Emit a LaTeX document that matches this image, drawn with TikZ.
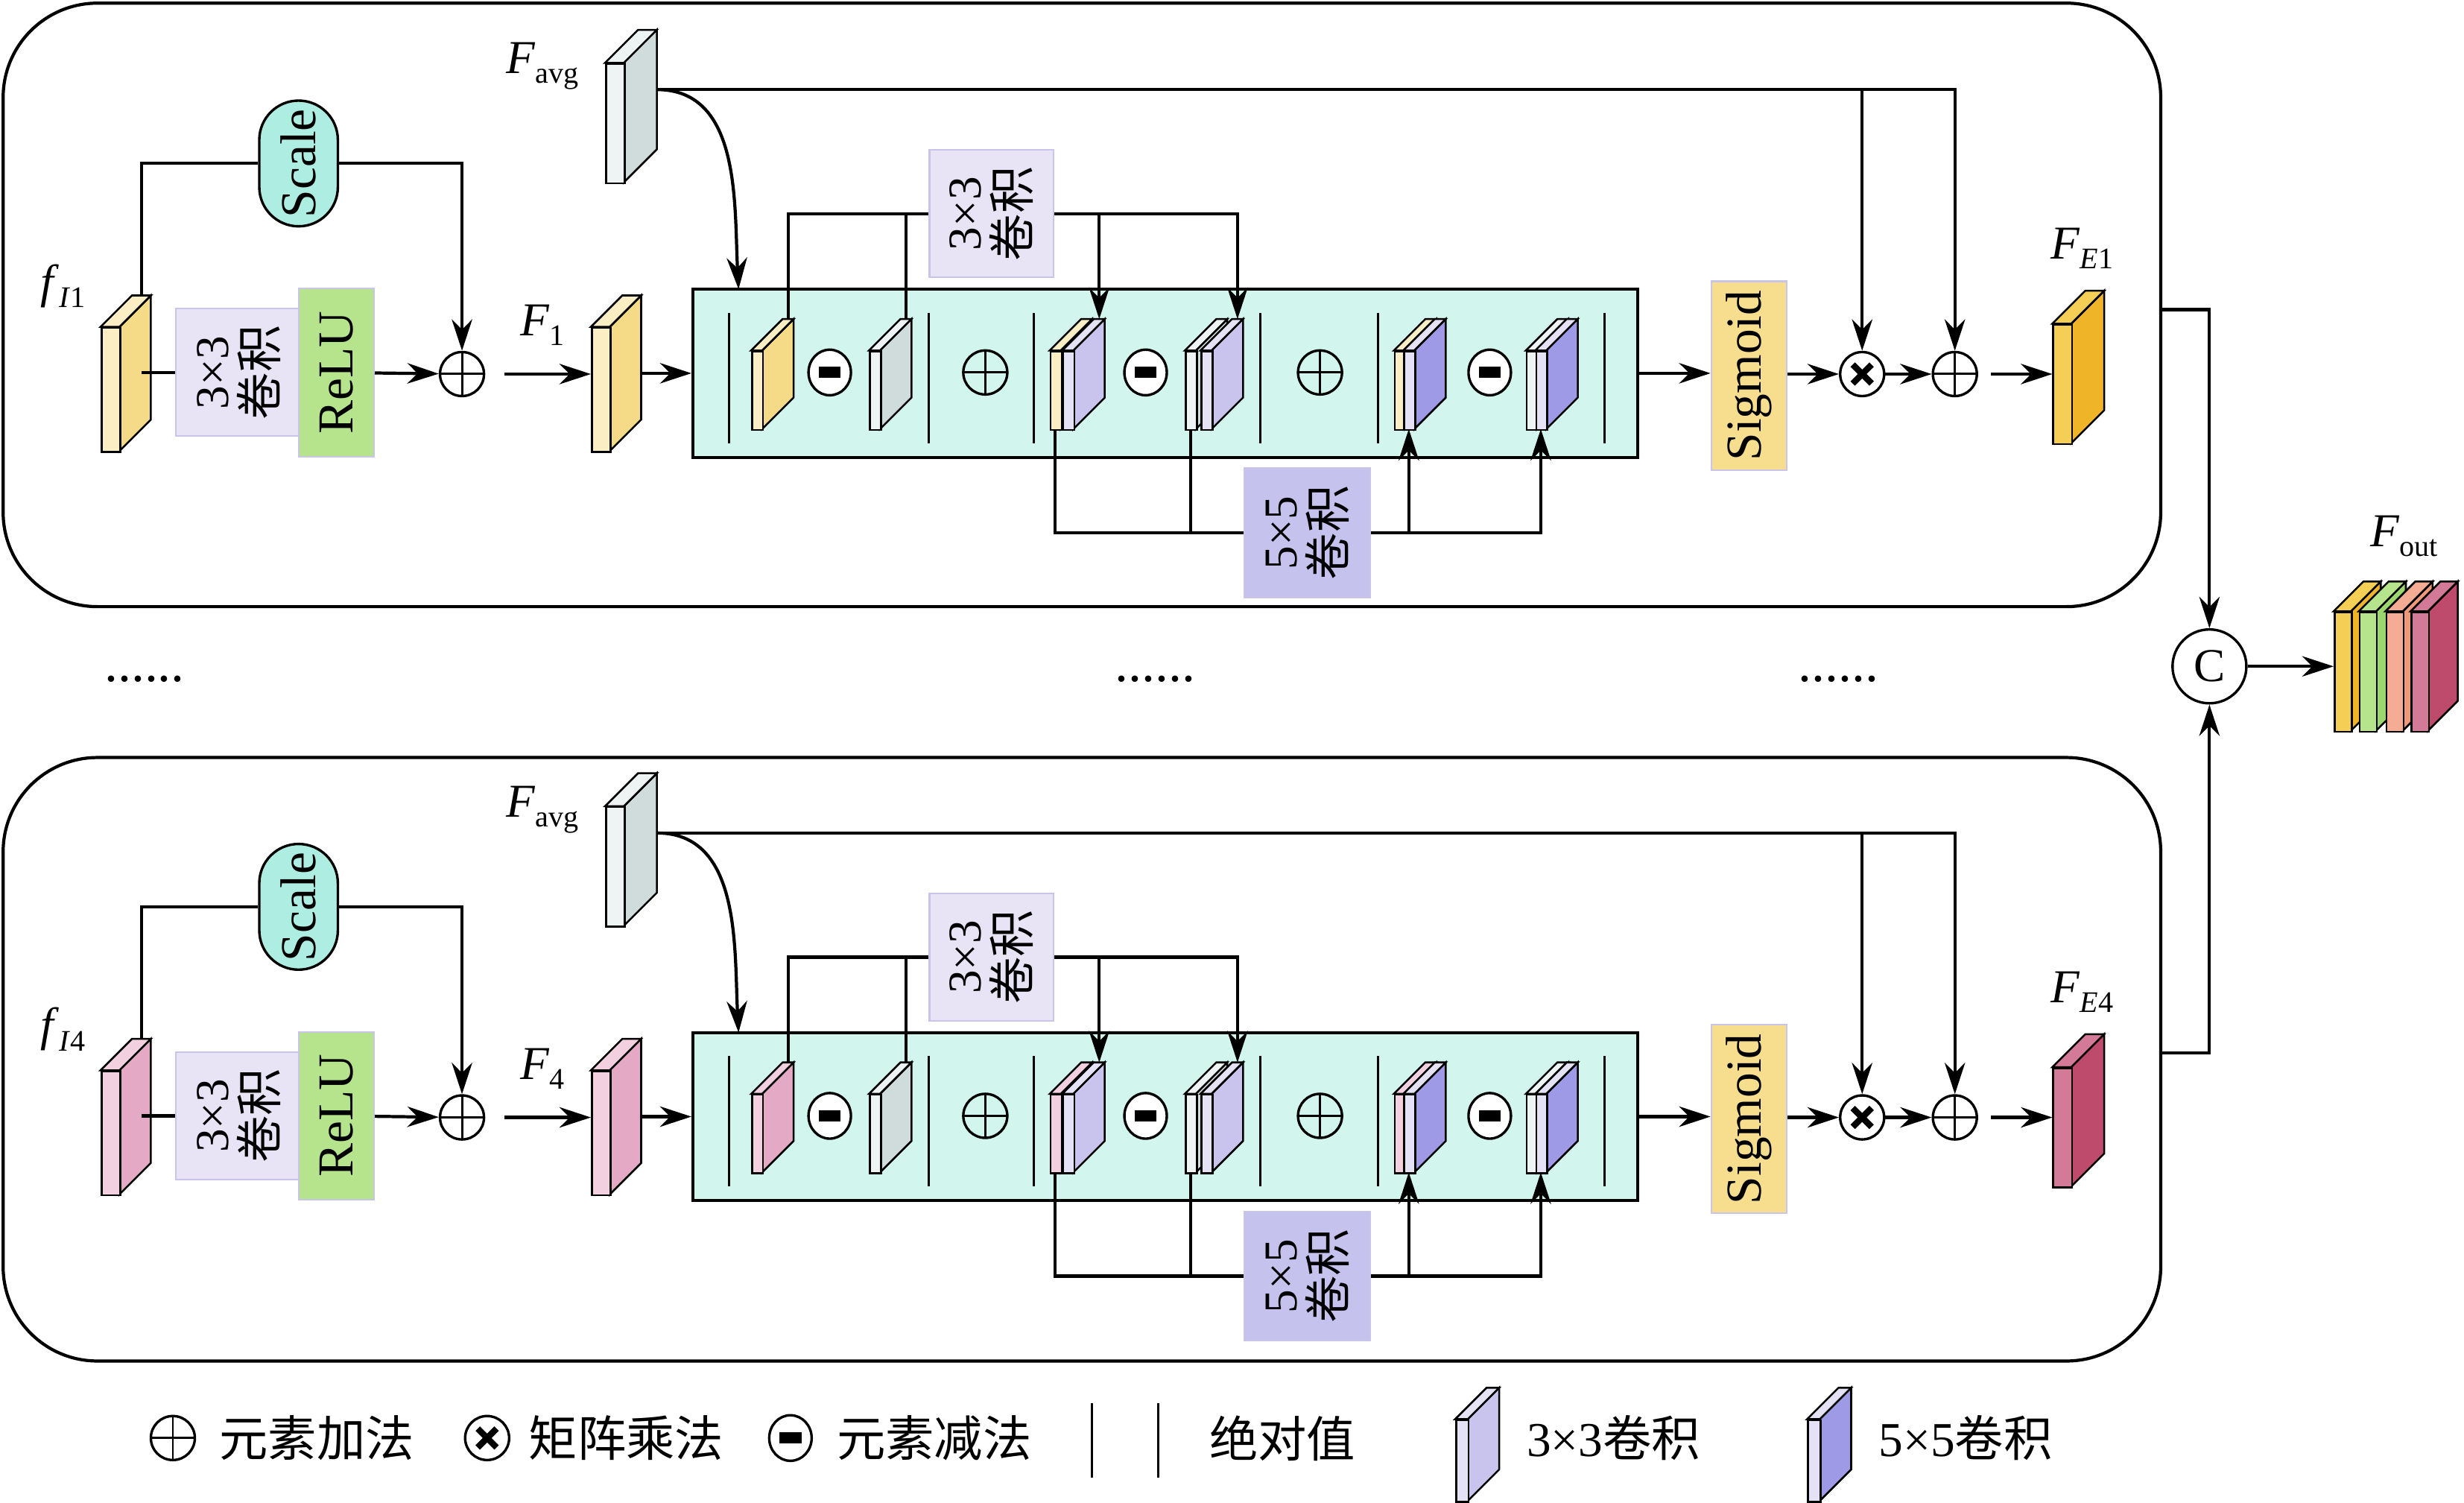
\documentclass[tikz,border=0pt]{standalone}
\usepackage{fontspec}
\setmainfont{Liberation Serif}
\newfontfamily\cjk{Noto Sans CJK SC}
\usetikzlibrary{shapes.misc,shapes.geometric,arrows.meta,calc}
\definecolor{bigcolor}{RGB}{210,246,238}
\definecolor{convcolor}{RGB}{232,228,246}
\definecolor{bigconvcolor}{RGB}{197,194,238}
\definecolor{relucolor}{RGB}{181,228,140}
\definecolor{sigcolor}{RGB}{247,222,143}
\definecolor{scalecolor}{RGB}{174,238,226}
\definecolor{edgecolor}{RGB}{200,196,234}
\definecolor{inY}{RGB}{251,237,196}
\definecolor{inYs}{RGB}{245,218,136}
\definecolor{inP}{RGB}{242,208,224}
\definecolor{inPs}{RGB}{228,169,196}
\definecolor{feY}{RGB}{245,206,85}
\definecolor{feYs}{RGB}{240,180,41}
\definecolor{feP}{RGB}{210,122,152}
\definecolor{fePs}{RGB}{190,74,108}
\definecolor{grayF}{RGB}{238,243,243}
\definecolor{grayS}{RGB}{208,220,220}
\definecolor{lavF}{RGB}{230,226,246}
\definecolor{lavS}{RGB}{200,196,238}
\definecolor{purS}{RGB}{159,154,230}
\definecolor{grnF}{RGB}{181,228,140}
\definecolor{grnS}{RGB}{156,214,110}
\definecolor{salF}{RGB}{244,172,148}
\definecolor{salS}{RGB}{240,152,120}

% feature map: name, x, top, bottom, width, depth, front, side
\newcommand{\fmap}[8]{%
  \filldraw[fmline, fill=#8] (#2+#5,#3) -- ++(#6,-#6) -- ++(0,#4-#3) -- (#2+#5,#4) -- cycle;
  \filldraw[fmline, fill=#7] (#2,#3) -- ++(#6,-#6) -- ++(#5,0) -- (#2+#5,#3) -- cycle;
  \node[fmline, fill=#7, inner sep=0, anchor=north west, minimum width=#5, minimum height=#4-#3] (#1) at (#2,#3) {};
  \coordinate (#1-t) at (#2+#5/2+#6,#3-#6);
  \coordinate (#1-r) at (#2+#5+#6,#3-#6);
  \coordinate (#1-b) at (#2+#5/2,#4);
}
\newcommand{\lbl}[2]{\textit{#1}\raisebox{-0.45ex}{\fontsize{19}{20}\selectfont #2}}

\begin{document}
\begin{tikzpicture}[x=1pt, y=-1pt,
    >={Stealth[length=20pt,width=13pt]},
    every node/.style={font=\fontsize{30}{33}\selectfont},
    ]
\tikzset{
  fmline/.style={draw, line width=1.2pt},
  conn/.style={line width=2pt},
  box/.style={rotate=90, align=center, inner sep=0, draw=edgecolor, line width=1pt, font=\fontsize{32}{34}\selectfont},
  conv/.style={box, fill=convcolor, font=\fontsize{30}{31}\selectfont},
  legend/.style={anchor=west, font=\fontsize{31}{34}\selectfont},
  oplus/.style={circle, draw, line width=1.6pt, minimum size=28, inner sep=0,
    path picture={\draw[line width=1.4pt] (path picture bounding box.north) -- (path picture bounding box.south)
      (path picture bounding box.west) -- (path picture bounding box.east);}},
  otimes/.style={circle, draw, line width=1.6pt, minimum size=28, inner sep=0,
    path picture={\draw[line width=4pt] ($(path picture bounding box.center)+(-6,-6)$) -- ++(12,12)
      ($(path picture bounding box.center)+(-6,6)$) -- ++(12,-12);}},
  ominus/.style={ellipse, draw, fill=white, line width=1.6pt, minimum width=27, minimum height=29, inner sep=0,
    path picture={\fill[black] ($(path picture bounding box.center)+(-7,-3.5)$) rectangle ++(14,7);}},
}
\useasboundingbox (0,0) rectangle (1568,956);

\foreach \k/\sh/\pt/\pb/\cin/\cins/\cef/\cefs in {1/0/2/386/inY/inYs/feY/feYs, 4/473/9/393/inP/inPs/feP/fePs}{
\begin{scope}[yshift=-\sh pt]
\draw[line width=2pt, rounded corners=60] (2,\pt) rectangle (1375,\pb);

% input branch
\fmap{fin\k}{64}{208}{287}{12}{20}{\cin}{\cins}
\node at (40,182) {\lbl{f}{\textit{I}\k}};
\node[conv, minimum width=81, minimum height=80] (conv\k) at (152,237) {3×3\\{\cjk 卷积}};
\node[box, fill=relucolor, minimum width=107, minimum height=48] (relu\k) at (214,237) {ReLU};
\node[box, rounded rectangle, draw=black, line width=1.6pt, fill=scalecolor, minimum width=80, minimum height=50] (scl\k) at (190,104) {Scale};
\node[oplus] (plusa\k) at (294,238) {};
\fmap{f\k}{376}{208}{287}{12}{20}{\cin}{\cins}
\node at (345,207) {\lbl{F}{\k}};

% average map
\fmap{avg\k}{385}{40}{116}{12}{21}{grayF}{grayS}
\node at (345,42) {\lbl{F}{avg}};
\coordinate (avgo\k) at (418,57);
\coordinate (bigin\k) at (470,184);

% difference block
\node[draw, line width=2pt, fill=bigcolor, minimum width=601, minimum height=107] (big\k) at (741.5,237.5) {};
\foreach \x in {464,591,658,802,877,1021}
  \draw[line width=1.4pt] (\x,199) -- (\x,282);
\fmap{ca\k}{478}{223}{273}{7}{20}{\cin}{\cins}
\node[ominus] (mina\k) at (528,237) {};
\fmap{cb\k}{553}{223}{273}{7}{20}{grayF}{grayS}
\node[oplus] (plusc\k) at (627,237) {};
\fmap{cc\k}{668}{223}{273}{7}{20}{\cin}{\cins}
\fmap{ccb\k}{676}{223}{273}{7}{20}{lavF}{lavS}
\node[ominus] (minb\k) at (729,237) {};
\fmap{cd\k}{754}{223}{273}{7}{20}{grayF}{grayS}
\fmap{cdb\k}{764}{223}{273}{7}{20}{lavF}{lavS}
\node[oplus] (plusd\k) at (840,237) {};
\fmap{ce\k}{887}{223}{273}{7}{20}{\cin}{\cins}
\fmap{ceb\k}{893}{223}{273}{7}{20}{lavF}{purS}
\node[ominus] (minc\k) at (948,237) {};
\fmap{cf\k}{971}{223}{273}{7}{20}{grayF}{grayS}
\fmap{cfb\k}{977}{223}{273}{7}{20}{lavF}{purS}
\node[conv, minimum width=81, minimum height=79] (kth\k) at (631,136) {3×3\\{\cjk 卷积}};
\node[conv, fill=bigconvcolor, minimum width=82, minimum height=80] (kfi\k) at (832,339) {5×5\\{\cjk 卷积}};

% output branch
\node[box, fill=sigcolor, minimum width=120, minimum height=48] (sig\k) at (1113,239) {Sigmoid};
\node[otimes] (times\k) at (1185,238) {};
\node[oplus] (plusb\k) at (1244,238) {};
\fmap{fe\k}{1306}{206}{282}{12}{21}{\cef}{\cefs}
\node at (1325,158) {\lbl{F}{\textit{E}\k}};
\coordinate (out\k) at (1376,197);

\draw[conn] (fin\k-t |- conv\k) -- (conv\k);
\draw[conn, ->] (relu\k) -- (plusa\k);
\draw[conn] (fin\k-t) |- (scl\k);
\draw[conn, ->] (scl\k) -| (plusa\k);
\draw[conn, ->, shorten <=12pt] (plusa\k) -- (plusa\k -| f\k.west);
\draw[conn, ->] (f\k-r |- big\k) -- (big\k);
\draw[conn, ->] (avgo\k) to[out=0, in=93] (bigin\k);
\draw[conn, ->] (avgo\k) -| (plusb\k);
\draw[conn, ->] (avgo\k -| times\k) -- (times\k);
\draw[conn] (ca\k-t) |- (kth\k);
\draw[conn] (cb\k-t) -- (cb\k-t |- kth\k);
\draw[conn, ->] (kth\k) -| (ccb\k-t);
\draw[conn, ->] (kth\k) -| (cdb\k-t);
\draw[conn] (cc\k-b) |- (kfi\k);
\draw[conn] (cd\k-b) -- (cd\k-b |- kfi\k);
\draw[conn, ->] (kfi\k) -| (ceb\k-b);
\draw[conn, ->] (kfi\k) -| (cfb\k-b);
\draw[conn, ->] (big\k) -- (sig\k.north |- big\k);
\draw[conn, ->] (sig\k.south |- times\k) -- (times\k);
\draw[conn, ->] (times\k) -- (plusb\k);
\draw[conn, ->, shorten <=8pt] (plusb\k) -- (plusb\k -| fe\k.west);
\end{scope}
}

\node[font=\fontsize{34}{36}\selectfont] (dota) at (92,432) {......};
\node[font=\fontsize{34}{36}\selectfont] (dotb) at (735,432) {......};
\node[font=\fontsize{34}{36}\selectfont] (dotc) at (1170,432) {......};

% concatenation
\node[circle, draw, line width=1.6pt, minimum size=47, inner sep=0] (cat) at (1406,424) {C};
\fmap{fo1}{1485}{389}{465}{11}{19}{feY}{feYs}
\fmap{fo2}{1501}{389}{465}{11}{19}{grnF}{grnS}
\fmap{fo3}{1518}{389}{465}{11}{19}{salF}{salS}
\fmap{fo4}{1534}{389}{465}{11}{19}{feP}{fePs}
\node at (1530,341) {\lbl{F}{out}};
\coordinate (out4) at (1376,670);
\draw[conn, ->] (out1) -| (cat);
\draw[conn, ->] (out4) -| (cat);
\draw[conn, ->] (cat) -- (cat -| fo1.west);

% legend
\node[oplus] (lgadd) at (110,915) {};
\node[legend] at (136,915) {\cjk 元素加法};
\node[otimes] (lgmul) at (310,915) {};
\node[legend] at (333,915) {\cjk 矩阵乘法};
\node[ominus] (lgsub) at (503,915) {};
\node[legend] at (529,915) {\cjk 元素减法};
\draw[line width=1.4pt] (695,893) -- (695,940) (737,893) -- (737,940);
\node[legend] at (766,915) {\cjk 绝对值};
\fmap{lgk3}{926}{903}{955}{8}{20}{lavF}{lavS}
\node[legend] at (968,915) {3×3{\cjk 卷积}};
\fmap{lgk5}{1150}{903}{955}{8}{20}{lavF}{purS}
\node[legend] at (1192,915) {5×5{\cjk 卷积}};
\end{tikzpicture}
\end{document}
